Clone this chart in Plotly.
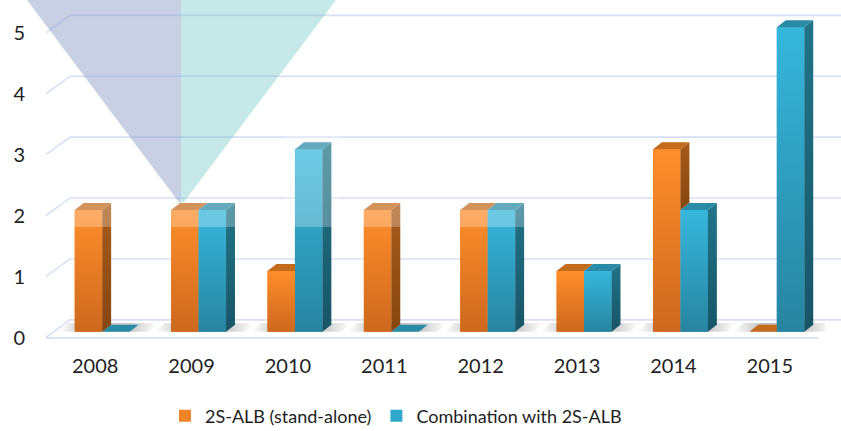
import plotly.graph_objects as go

# ---------------- data ----------------
years = ["2008", "2009", "2010", "2011", "2012", "2013", "2014", "2015"]
standalone = [2, 2, 1, 2, 2, 1, 3, 0]
combination = [0, 2, 3, 0, 2, 1, 2, 5]
y_ticks = [0, 1, 2, 3, 4, 5]
series_names = ["2S-ALB (stand-alone)", "Combination with 2S-ALB"]

# ---------------- layout constants ----------------
W, H = 841, 431
ML, MR, MT, MB = 54, 16, 3, 87
YMIN, YMAX = -0.2, 5.4
XMIN, XMAX = -0.5, 7.5
PW, PH = W - ML - MR, H - MT - MB

BW = 0.285   # bar front width (category units)
DX = 0.093   # depth offset x
DY = 0.115   # depth offset y

FONT = "Lato, Carlito, 'Open Sans', sans-serif"
TXT = "#1E1E1E"

OR_FRONT = [[0, "#CD681E"], [1, "#FF8E2B"]]
OR_SIDE = [[0, "#86460F"], [1, "#A75B1B"]]
OR_TOP = "#C46C1E"
BL_FRONT = [[0, "#2784A0"], [1, "#36B7DC"]]
BL_SIDE = [[0, "#185567"], [1, "#217488"]]
BL_TOP = "#2A8BA6"
OR_LEG, BL_LEG = "#EE8427", "#31A8CB"


def px_x(px):
    return (px - ML) / PW


def px_y(py):
    return (H - MB - py) / PH


def val_y(v):
    return (v - YMIN) / (YMAX - YMIN)


fig = go.Figure()
xs = list(range(len(years)))

# base bars (front faces, also provide the legend)
fig.add_trace(go.Bar(x=xs, y=standalone, width=BW, offset=-BW, name=series_names[0],
                     marker=dict(color=OR_LEG, line=dict(width=0))))
fig.add_trace(go.Bar(x=xs, y=combination, width=BW, offset=0, name=series_names[1],
                     marker=dict(color=BL_LEG, line=dict(width=0))))


def poly(px, py, color=None, grad=None, gtype="vertical"):
    kw = dict(fillcolor=color) if grad is None else dict(
        fillgradient=dict(type=gtype, colorscale=grad))
    fig.add_trace(go.Scatter(x=px + [px[0]], y=py + [py[0]], mode="lines", fill="toself",
                             line=dict(width=0, color="rgba(0,0,0,0)"),
                             showlegend=False, hoverinfo="skip", **kw))


# floor shadows
SHADOW = [[0, "rgba(90,90,90,0)"], [0.3, "rgba(90,90,90,0.4)"],
          [0.75, "rgba(90,90,90,0.3)"], [1, "rgba(90,90,90,0)"]]
for i in xs:
    xl, xr = i - BW - 0.16, i + BW + DX + 0.1
    poly([xl, xl + DX, xr + DX, xr], [0.0, DY + 0.03, DY + 0.03, 0.0],
         grad=SHADOW, gtype="horizontal")

# orange: front, visible side (above the blue bar), top
for i, (vo, vb) in enumerate(zip(standalone, combination)):
    xl, xr = i - BW, i
    if vo > 0:
        poly([xl, xr, xr, xl], [0, 0, vo, vo], grad=OR_FRONT)
    base = max(vb, 0)
    if vo > base:
        poly([xr, xr + DX, xr + DX, xr], [base, base + DY, vo + DY, vo], grad=OR_SIDE)
    poly([xl, xl + DX, xr + DX, xr], [vo, vo + DY, vo + DY, vo], color=OR_TOP)
# blue: front, side, top
for i, vb in enumerate(combination):
    xl, xr = i, i + BW
    if vb > 0:
        poly([xl, xr, xr, xl], [0, 0, vb, vb], grad=BL_FRONT)
        poly([xr, xr + DX, xr + DX, xr], [0, DY, vb + DY, vb], grad=BL_SIDE)
    poly([xl, xl + DX, xr + DX, xr], [vb, vb + DY, vb + DY, vb], color=BL_TOP)

shapes = []
# translucent overlay triangles (top-left)
shapes.append(dict(type="path", xref="paper", yref="paper", layer="below",
                   path=f"M {px_x(27)},{px_y(0)} L {px_x(181)},{px_y(0)} L {px_x(181)},{px_y(205)} Z",
                   fillcolor="#C9D0E4", line=dict(width=0)))
shapes.append(dict(type="path", xref="paper", yref="paper", layer="below",
                   path=f"M {px_x(181)},{px_y(0)} L {px_x(336)},{px_y(0)} L {px_x(181)},{px_y(206)} Z",
                   fillcolor="#C5E9E8", line=dict(width=0)))

# 3D-style gridlines: slanted left part + back-wall line
GRID = "rgba(130,165,225,0.33)"
for v in y_ticks:
    yf = val_y(v - 0.09)
    yb = val_y(v + 0.197)
    shapes.append(dict(type="path", xref="paper", yref="paper", layer="below",
                       path=f"M {px_x(46)},{yf} L {px_x(70)},{yb} L {px_x(841)},{yb}",
                       line=dict(color=GRID, width=1.6)))
# floor front edge
shapes.append(dict(type="line", xref="paper", yref="paper", layer="below",
                   x0=px_x(46), x1=px_x(818), y0=val_y(-0.1), y1=val_y(-0.1),
                   line=dict(color=GRID, width=1.6)))
# light overlay band across the upper part of the left bars
WHITE = "rgba(255,255,255,0.27)"
shapes.append(dict(type="rect", xref="paper", yref="paper", layer="above",
                   x0=px_x(60), x1=px_x(600), y0=val_y(1.72), y1=val_y(2.15),
                   fillcolor=WHITE, line=dict(width=0)))
shapes.append(dict(type="rect", xref="paper", yref="paper", layer="above",
                   x0=px_x(285), x1=px_x(340), y0=val_y(2.15), y1=val_y(3.3),
                   fillcolor=WHITE, line=dict(width=0)))

fig.update_layout(
    width=W, height=H,
    margin=dict(l=ML, r=MR, t=MT, b=MB, pad=0, autoexpand=False),
    paper_bgcolor="white", plot_bgcolor="rgba(0,0,0,0)",
    barmode="overlay",
    font=dict(family=FONT, size=20, color=TXT),
    shapes=shapes,
    showlegend=True,
    legend=dict(orientation="h", x=px_x(396), xanchor="center", y=px_y(416), yanchor="middle",
                font=dict(family=FONT, size=18, color=TXT), itemwidth=30,
                bgcolor="rgba(0,0,0,0)"),
    xaxis=dict(range=[XMIN, XMAX], tickvals=xs, ticktext=years, showgrid=False,
               zeroline=False, showline=False, ticks="", ticklabelstandoff=8,
               ticklabelshift=-7, fixedrange=True, tickfont=dict(size=20), automargin=False),
    yaxis=dict(range=[YMIN, YMAX], tickvals=y_ticks, showgrid=False, zeroline=False,
               showline=False, ticks="", ticklabelstandoff=28, ticklabelshift=6,
               fixedrange=True, tickfont=dict(size=20), automargin=False),
)

fig.write_html("out.html")
